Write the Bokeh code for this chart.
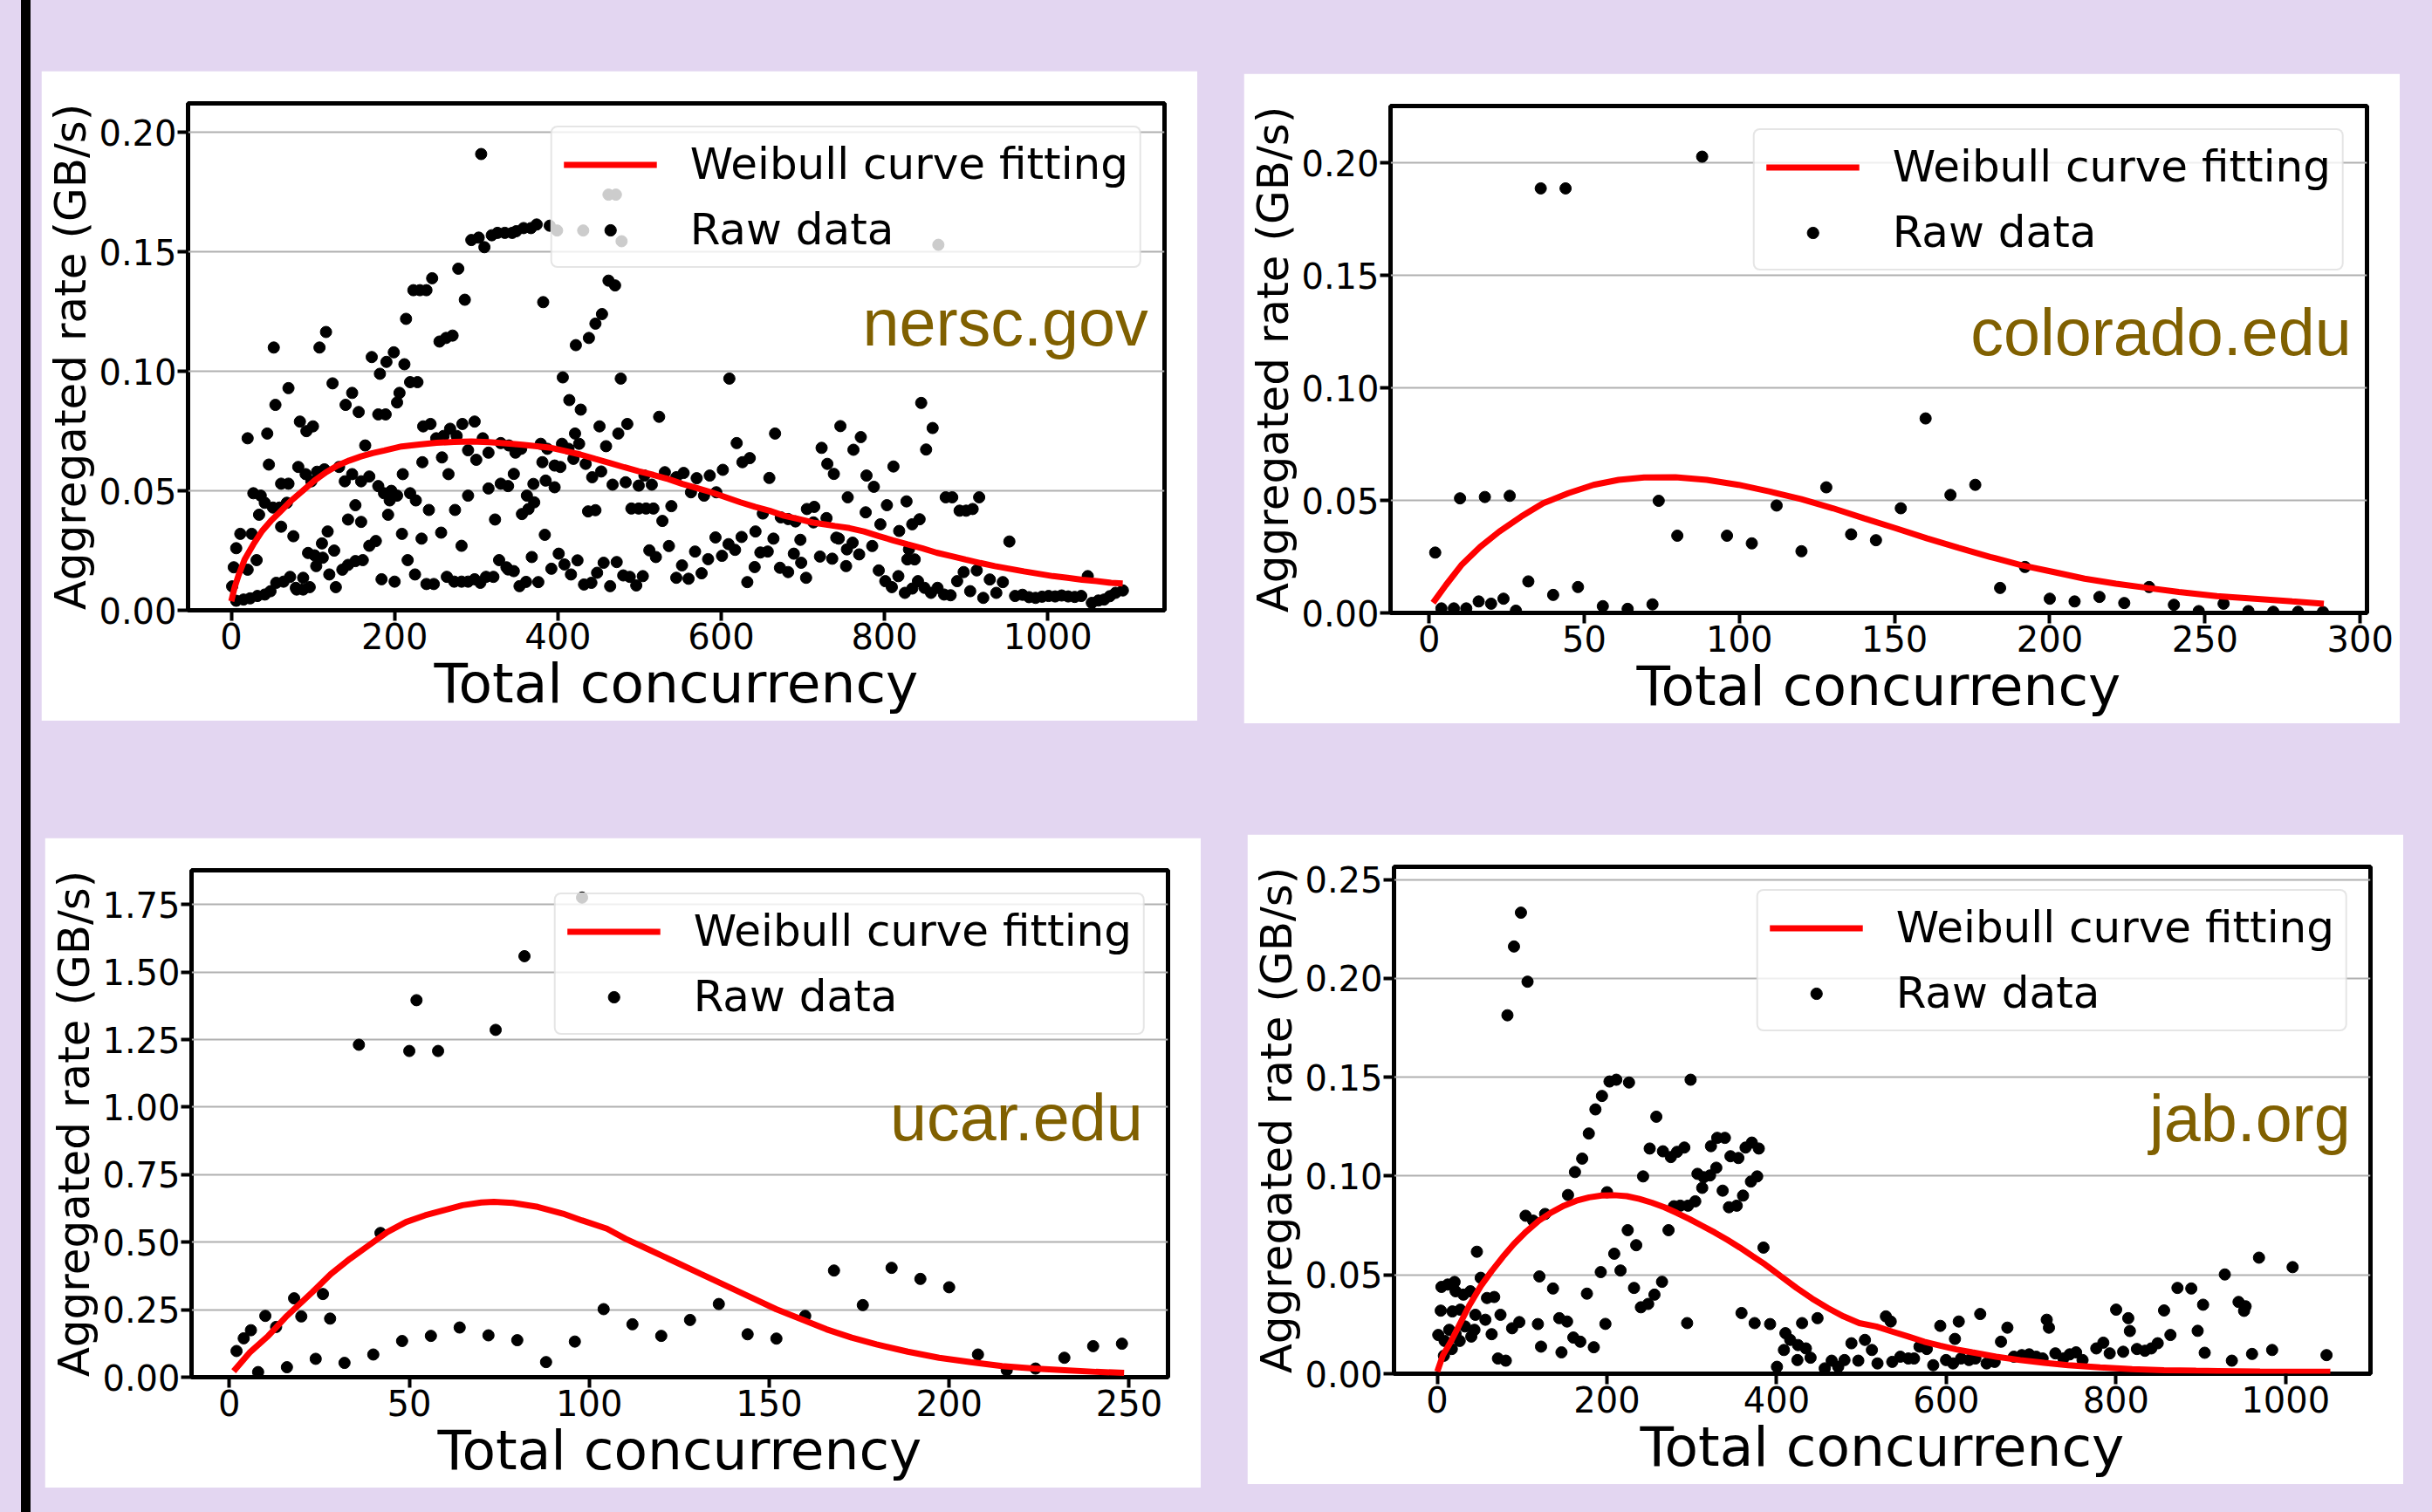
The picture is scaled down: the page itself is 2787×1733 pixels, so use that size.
from bokeh.plotting import figure
from bokeh.models import FixedTicker, PrintfTickFormatter, Range1d, Legend, LegendItem, Label
from bokeh.layouts import row, column
from bokeh.embed import file_html
from bokeh.resources import INLINE

# ---------------- data ----------------
nersc_x = [306, 294, 303, 310, 319, 326, 335, 344, 278, 286, 246, 223, 231, 239, 214, 255, 263, 271,
           116, 108, 52, 172, 190, 199, 212, 182, 124, 219, 228, 70, 148, 206, 140, 156, 203, 54, 180, 189,
           84, 92, 100, 235, 244, 283, 298, 268, 20, 44, 251, 260, 276, 164, 308, 258, 290, 300, 315, 330, 340,
           234, 266, 210, 46, 82, 91, 98, 105, 114, 132, 139, 148, 159, 169, 180, 187, 196, 203, 194,
           27, 36, 41, 61, 70, 68, 59, 51, 34, 61, 219, 226, 242, 290, 315, 330, 339, 274, 323,
           143, 152, 159, 192, 11, 25, 6, 3, 1, 20, 31, 76, 118, 111, 94, 102, 112, 104, 126, 120, 128,
           169, 177, 161, 152, 143, 136, 209, 233, 257, 282, 216, 225, 184, 200, 239, 248,
           264, 273, 282, 290, 298, 305, 312, 321, 328, 337,
           6, 15, 23, 32, 41, 48, 55, 64, 72, 79, 88, 96, 80, 88,
           349, 358, 367, 374, 390, 399, 431, 462, 471, 478, 866,
           382, 462, 470, 454, 446, 438, 422, 406, 477, 610, 414, 428, 524,
           451, 485, 474, 421, 666, 619, 723, 348, 355, 379, 387, 405, 413, 426, 419, 459,
           381, 396, 403, 434, 626, 635, 730, 738, 346, 370, 385, 396, 442, 453, 467, 483,
           499, 506, 515, 531, 545, 554, 570, 586, 602, 563, 579, 594, 362, 371, 364, 356, 437, 446,
           490, 499, 508, 517, 528, 539, 651, 659, 673, 682, 691, 705, 714, 713, 729, 741, 384,
           339, 346, 353, 361, 376, 368, 392, 401, 408, 416, 424,
           432, 441, 448, 456, 464, 472, 480, 488, 496, 504, 512, 520, 536,
           545, 552, 560, 568, 576, 584, 593, 601, 609, 617, 625,
           632, 641, 642, 648, 657, 664, 672, 682, 689, 697, 698, 704, 721, 736, 744,
           845, 859, 851, 746, 771, 762, 811, 778, 787, 755, 827, 803, 777, 795, 818, 834, 843,
           875, 883, 892, 900, 908, 916, 761, 754, 769, 785, 753, 830, 828, 837, 953,
           793, 801, 809, 817, 825, 834, 841, 849, 857, 865, 873, 881, 889, 897, 905, 913, 921, 929, 937, 945,
           960, 969, 977, 985, 993, 1001, 1009, 1017, 1025, 1033, 1041, 1049,
           1054, 1062, 1069, 1076, 1083, 1092]
nersc_y = [0.191, 0.155, 0.156, 0.152, 0.157, 0.158, 0.158, 0.158, 0.143, 0.130, 0.139, 0.134, 0.134, 0.134, 0.122, 0.1125, 0.114, 0.115,
           0.1165, 0.110, 0.110, 0.106, 0.104, 0.108, 0.103, 0.099, 0.095, 0.0955, 0.0955, 0.093, 0.091, 0.091, 0.086, 0.083, 0.087, 0.086, 0.082, 0.082,
           0.079, 0.075, 0.077, 0.077, 0.078, 0.078, 0.079, 0.076, 0.072, 0.074, 0.072, 0.073, 0.073, 0.069, 0.072, 0.064, 0.067, 0.063, 0.066, 0.070, 0.069,
           0.062, 0.057, 0.057, 0.061, 0.060, 0.057, 0.054, 0.058, 0.059, 0.060, 0.054, 0.057, 0.054, 0.056, 0.052, 0.049, 0.050, 0.048, 0.046,
           0.049, 0.048, 0.045, 0.053, 0.053, 0.045, 0.043, 0.043, 0.040, 0.035, 0.049, 0.046, 0.042, 0.048, 0.051, 0.053, 0.052, 0.042, 0.038,
           0.038, 0.044, 0.037, 0.040, 0.032, 0.032, 0.026, 0.018, 0.010, 0.017, 0.021, 0.031, 0.033, 0.028, 0.024, 0.023, 0.022, 0.0185, 0.025, 0.015, 0.0097,
           0.027, 0.029, 0.021, 0.0206, 0.019, 0.017, 0.032, 0.030, 0.0325, 0.027, 0.021, 0.015, 0.013, 0.012, 0.011, 0.011,
           0.014, 0.012, 0.012, 0.012, 0.013, 0.0115, 0.014, 0.014, 0.021, 0.018,
           0.004, 0.0045, 0.005, 0.006, 0.0066, 0.008, 0.0115, 0.012, 0.014, 0.0094, 0.0136, 0.0097, 0.0087, 0.0087,
           0.1587, 0.160, 0.160, 0.1615, 0.161, 0.159, 0.159, 0.174, 0.174, 0.1545, 0.153,
           0.129, 0.138, 0.136, 0.124, 0.120, 0.114, 0.111, 0.0975, 0.097, 0.097, 0.088, 0.084, 0.081,
           0.077, 0.078, 0.074, 0.074, 0.074, 0.070, 0.068, 0.066, 0.0676, 0.0697, 0.0676, 0.0697, 0.0676, 0.0697, 0.0634, 0.0687,
           0.062, 0.0606, 0.060, 0.0613, 0.062, 0.0637, 0.0613, 0.0571, 0.0571, 0.0529, 0.0543, 0.0515, 0.0557, 0.0581, 0.0526, 0.0536,
           0.0522, 0.0564, 0.0526, 0.0578, 0.0557, 0.0575, 0.0553, 0.0564, 0.0588, 0.0494, 0.048, 0.0494, 0.048, 0.0452, 0.0424, 0.0403, 0.0414, 0.0419,
           0.0426, 0.0426, 0.0426, 0.0426, 0.0374, 0.0436, 0.0405, 0.0554, 0.0389, 0.0382, 0.0372, 0.0424, 0.0433, 0.0368, 0.0386, 0.0304, 0.0316,
           0.0171, 0.0164, 0.0101, 0.0119, 0.0118, 0.0223, 0.0174, 0.0237, 0.0192, 0.015, 0.0209,
           0.0108, 0.0115, 0.0157, 0.0199, 0.0101, 0.0202, 0.0146, 0.014, 0.0104, 0.0143, 0.0251, 0.0223, 0.0269,
           0.0136, 0.0188, 0.0132, 0.0246, 0.0155, 0.0214, 0.0305, 0.0228, 0.0277, 0.0253, 0.0307,
           0.0118, 0.0181, 0.033, 0.0242, 0.0246, 0.030, 0.0178, 0.016, 0.0237, 0.0295, 0.0199, 0.0136, 0.0225, 0.0216, 0.030,
           0.0868, 0.0763, 0.0673, 0.0771, 0.0725, 0.0672, 0.0602, 0.0564, 0.0517, 0.0473, 0.0456, 0.044, 0.041, 0.036, 0.0332, 0.036, 0.0381,
           0.0473, 0.0473, 0.0417, 0.0417, 0.0424, 0.0473, 0.0283, 0.0255, 0.0234, 0.0269, 0.0185, 0.0255, 0.0213, 0.0213, 0.0288,
           0.0167, 0.0122, 0.0097, 0.0143, 0.0073, 0.0091, 0.0122, 0.0094, 0.0073, 0.0094, 0.0066, 0.0063, 0.0122, 0.016, 0.008, 0.0167, 0.0052, 0.0129, 0.0073, 0.0118,
           0.006, 0.0065, 0.0055, 0.0052, 0.0057, 0.006, 0.0058, 0.0062, 0.0058, 0.0056, 0.006, 0.0143,
           0.0031, 0.0041, 0.0045, 0.0059, 0.0073, 0.0083]
nersc_fit_x = [0, 3.9, 9.2, 16.3, 27.0, 37.7, 48.4, 59.1, 73.3, 87.6, 101.8, 116.1, 130.3, 144.5, 158.8, 173.0, 187.3,
               208.6, 230.0, 251.4, 272.7, 294.1, 315.5, 344.0, 356.5, 374.3, 392.1, 409.9, 427.7, 445.5, 463.3, 481.1,
               498.9, 516.8, 534.6, 552.4, 570.2, 588.0, 605.8, 623.6, 641.4, 659.2, 677.0, 694.8, 712.6, 730.4, 739.3,
               757.1, 774.9, 792.7, 810.5, 828.3, 846.1, 863.9, 881.7, 899.5, 917.4, 935.2, 953.0, 970.8, 988.6, 1006.4,
               1024.2, 1042.0, 1059.8, 1077.6, 1091.8]
nersc_fit_y = [0.0038, 0.0094, 0.0150, 0.0213, 0.0276, 0.0332, 0.0374, 0.0410, 0.0459, 0.0501, 0.0543, 0.0578, 0.0606,
               0.0627, 0.0644, 0.0658, 0.0669, 0.0686, 0.0694, 0.0701, 0.0705, 0.0707, 0.0704, 0.0697, 0.0693, 0.0687,
               0.0680, 0.0666, 0.0652, 0.0634, 0.0617, 0.0599, 0.0582, 0.0567, 0.0550, 0.0529, 0.0512, 0.0494, 0.0473,
               0.0452, 0.0433, 0.0417, 0.0396, 0.0382, 0.0367, 0.0358, 0.0353, 0.0344, 0.0330, 0.0311, 0.0293, 0.0276,
               0.0260, 0.0241, 0.0227, 0.0212, 0.0198, 0.0185, 0.0174, 0.0163, 0.0153, 0.0143, 0.0136, 0.0128, 0.0122,
               0.0115, 0.0112]

colorado_x = [88, 36, 44, 160, 2, 10, 18, 26, 74, 80, 96, 104, 120, 128, 112, 136, 144, 152, 168, 176, 192, 184, 200,
              208, 216, 224, 232, 240, 248, 256, 264, 272, 280, 288, 4, 8, 12, 16, 20, 24, 28, 32, 40, 48, 56, 64, 72]
colorado_y = [0.2027, 0.1886, 0.1886, 0.0864, 0.0268, 0.0509, 0.0515, 0.052, 0.0498, 0.0343, 0.0343, 0.0309, 0.0274,
              0.0558, 0.0477, 0.0349, 0.0323, 0.0465, 0.0524, 0.0569, 0.0204, 0.0111, 0.0063, 0.0051, 0.0071, 0.0044,
              0.0115, 0.0036, 0.0008, 0.0041, 0.0008, 0.0005, 0.0005, 0.0004, 0.002, 0.002, 0.002, 0.0051, 0.0041,
              0.0063, 0.001, 0.014, 0.008, 0.0115, 0.003, 0.0018, 0.0038]
colorado_fit_x = [1.3, 5.4, 10.4, 16.5, 22.6, 29.7, 36.8, 44.9, 53.0, 61.1, 69.3, 79.4, 89.5, 99.7, 109.8, 120.0, 130.1,
                  140.2, 150.4, 160.5, 170.6, 180.8, 190.9, 201.1, 211.2, 221.3, 231.5, 241.6, 253.8, 266.0, 278.1, 288.3]
colorado_fit_y = [0.0045, 0.0123, 0.0212, 0.0294, 0.0361, 0.0428, 0.0487, 0.0532, 0.0569, 0.0591, 0.0602, 0.0603, 0.0591,
                  0.0569, 0.0539, 0.0505, 0.0465, 0.0420, 0.0376, 0.0331, 0.0289, 0.0249, 0.0212, 0.0182, 0.0152, 0.0130,
                  0.0111, 0.0093, 0.0075, 0.0063, 0.0051, 0.0041]

ucar_x = [98, 82, 52, 36, 50, 58, 74, 42, 2, 4, 6, 10, 13, 18, 20, 26, 28, 8, 16, 24, 32, 40, 48, 56, 64, 72, 80,
          88, 96, 104, 112, 120, 128, 136, 144, 152, 160, 168, 176, 184, 192, 200, 208, 216, 224, 232, 240, 248]
ucar_y = [1.776, 1.559, 1.396, 1.231, 1.208, 1.208, 1.286, 0.534, 0.097, 0.144, 0.174, 0.227, 0.186, 0.292, 0.225,
          0.308, 0.217, 0.019, 0.037, 0.068, 0.053, 0.084, 0.134, 0.153, 0.184, 0.155, 0.137, 0.056, 0.132, 0.252,
          0.196, 0.153, 0.212, 0.271, 0.159, 0.143, 0.227, 0.395, 0.267, 0.405, 0.364, 0.333, 0.084, 0.026, 0.032,
          0.072, 0.115, 0.124]
ucar_fit_x = [1.2, 5.6, 10.8, 16.0, 23.0, 28.2, 33.5, 38.7, 43.9, 49.1, 54.4, 59.6, 64.8, 70.0, 73.5, 78.8, 85.7, 92.7,
              97.9, 104.9, 110.1, 117.1, 124.1, 131.0, 138.0, 145.0, 151.9, 158.9, 165.9, 172.9, 179.8, 188.5, 197.2,
              206.0, 214.7, 223.4, 232.1, 240.8, 248.6]
ucar_fit_y = [0.0223, 0.0906, 0.1527, 0.2271, 0.3140, 0.3823, 0.4382, 0.4878, 0.5375, 0.5747, 0.5995, 0.6182, 0.6368,
              0.6467, 0.6492, 0.6455, 0.6306, 0.6057, 0.5809, 0.5499, 0.5126, 0.4692, 0.4257, 0.3823, 0.3389, 0.2954,
              0.2520, 0.2147, 0.1775, 0.1464, 0.1216, 0.0944, 0.0720, 0.0558, 0.0409, 0.0323, 0.0261, 0.0198, 0.0161]

jab_x = [98.6, 90.4, 106.4, 82.7, 203, 211, 226, 298.6, 194.1, 186.4, 258.2, 178.6,
         330, 339, 322.6, 370.8, 379, 363.4, 345.6, 354.9, 250.4, 266, 275.3, 282.6, 291.2, 170.8, 162.3, 242.6,
         306.7, 314.1, 321.5, 328.9, 312.3, 369.7, 377.1, 336.4, 154.1, 200.1, 304.1, 295.6, 286.4, 278.9, 360.4, 343.8, 353,
         104.1, 113, 127.1, 224.5, 272.6, 234.5, 208.6, 384.5, 46.7, 192.7, 216, 120.4, 51.2, 264.9, 136.4, 176.4, 231.9,
         256, 248.6, 240, 4.9, 12.3, 20.4, 21.6, 30.8, 39, 58.6, 67.1, 4.1, 17.8, 27.1, 44.9, 56.7, 74.5, 88.2, 96.7,
         1.2, 8.6, 14.1, 21.6, 26.4, 32.7, 40.1, 43.8, 64.1, 7.8, 17.1, 71.5, 80.8, 118.6, 143.8, 153, 160.4, 168.6,
         122.3, 146.4, 184.5, 198.2, 294.5, 358.6, 374.1, 392.3, 400.4, 410.4, 416, 425.2, 434.5, 408.6, 424.5, 440, 430, 448.2,
         456.7, 464.9, 472.6, 480, 488.2, 496.3, 504.1, 512.3, 518.9,
         528.8, 534.5, 536.3, 545.8, 555.2, 562, 568.4, 577, 584.6, 592.9, 599.7, 608, 610.2, 614.7, 617.4, 626.8, 634.3,
         640, 647.5, 657, 664.5, 672, 679.6, 689, 697.7, 706, 713.5, 718.4, 721, 728.6, 738, 745.5, 753, 760.6, 776.8,
         785.1, 792.6, 800.2, 808.5, 814.5, 816.4, 824.7, 834.1, 841.6, 849.2, 856.7, 864.2, 872.5, 888.8, 896.3, 902.7,
         904.6, 928.3, 936.6, 944.5, 952.8, 951, 960.4, 968.6, 984.1, 1008.2, 1048.2]
jab_y = [0.2332, 0.2161, 0.1983, 0.1813, 0.1478, 0.1487, 0.1473, 0.1487, 0.1405, 0.1337, 0.13, 0.1215,
         0.1193, 0.1193, 0.1151, 0.1169, 0.1139, 0.1144, 0.11, 0.1091, 0.1139, 0.1125, 0.1096, 0.1122, 0.1144, 0.1088, 0.102, 0.0998,
         0.1011, 0.0994, 0.1003, 0.1042, 0.094, 0.0972, 0.0998, 0.0926, 0.0904, 0.0918, 0.0872, 0.085, 0.085, 0.0847, 0.0901, 0.0842, 0.085,
         0.0799, 0.0774, 0.0808, 0.0726, 0.0726, 0.065, 0.0607, 0.0638, 0.0617, 0.0514, 0.0522, 0.0492, 0.0485, 0.0465, 0.0431, 0.0405, 0.0434,
         0.04, 0.0353, 0.0336, 0.0439, 0.0451, 0.0464, 0.0417, 0.04, 0.0417, 0.0383, 0.0388, 0.0319, 0.0315, 0.0324, 0.0298, 0.0273, 0.0298, 0.023, 0.0261,
         0.0196, 0.0166, 0.0222, 0.02, 0.0166, 0.0239, 0.0188, 0.0222, 0.02, 0.0091, 0.0125, 0.0077, 0.0066, 0.0251, 0.0281, 0.0264, 0.0183, 0.0162,
         0.0137, 0.0108, 0.0134, 0.0252, 0.0256, 0.0307, 0.0256, 0.0251, 0.0035, 0.0205, 0.0171, 0.0145, 0.0128, 0.012, 0.0069, 0.0081, 0.0256, 0.0281,
         0.0027, 0.0066, 0.0035, 0.0069, 0.0154, 0.0066, 0.0171, 0.012, 0.0052,
         0.029, 0.0264, 0.006, 0.0086, 0.0077, 0.0077, 0.0137, 0.0125, 0.0043, 0.0242, 0.0069, 0.0052, 0.0176, 0.0264, 0.0077, 0.0069, 0.0077,
         0.0302, 0.0052, 0.006, 0.0162, 0.0233, 0.0086, 0.0094, 0.0098, 0.0086, 0.0077, 0.0273, 0.0233, 0.0103, 0.0077, 0.0098, 0.0108, 0.0069, 0.0128,
         0.0157, 0.0103, 0.0324, 0.0111, 0.0281, 0.0216, 0.0125, 0.0116, 0.0128, 0.0154, 0.032, 0.0196, 0.0434, 0.0431, 0.0217, 0.0349,
         0.0106, 0.0502, 0.0066, 0.0363, 0.0341, 0.0318, 0.01, 0.0587, 0.012, 0.0539, 0.0094]
jab_fit_x = [0, 6.7, 16.0, 27.1, 38.2, 51.2, 64.1, 77.1, 90.1, 104.9, 119.7, 134.5, 149.3, 164.1, 179.0, 193.8, 208.6,
             223.4, 238.2, 253.0, 267.8, 282.6, 297.5, 312.3, 327.1, 341.9, 356.7, 371.5, 386.3, 404.9, 423.4, 441.9,
             460.4, 478.9, 497.4, 517.5, 536.3, 555.2, 574.0, 592.9, 611.7, 630.6, 658.8, 687.1, 715.4, 743.6, 781.3,
             819.0, 856.7, 894.4, 969.8, 1052.7]
jab_fit_y = [0.0010, 0.0094, 0.0162, 0.0256, 0.0349, 0.0443, 0.0519, 0.0590, 0.0655, 0.0719, 0.0774, 0.0816, 0.0850,
             0.0875, 0.0892, 0.0901, 0.0903, 0.0898, 0.0884, 0.0865, 0.0842, 0.0813, 0.0782, 0.0748, 0.0714, 0.0677,
             0.0638, 0.0595, 0.0553, 0.0493, 0.0434, 0.0380, 0.0332, 0.0290, 0.0256, 0.0239, 0.0213, 0.0188, 0.0162,
             0.0142, 0.0123, 0.0108, 0.0086, 0.0069, 0.0055, 0.0043, 0.0032, 0.0023, 0.0018, 0.0015, 0.0011, 0.0010]

x_ticks_nersc = [0, 200, 400, 600, 800, 1000]
x_ticks_colorado = [0, 50, 100, 150, 200, 250, 300]
x_ticks_ucar = [0, 50, 100, 150, 200, 250]
x_ticks_jab = [0, 200, 400, 600, 800, 1000]
y_ticks_nersc = [0.0, 0.05, 0.10, 0.15, 0.20]
y_ticks_colorado = [0.0, 0.05, 0.10, 0.15, 0.20]
y_ticks_ucar = [0.0, 0.25, 0.5, 0.75, 1.0, 1.25, 1.5, 1.75]
y_ticks_jab = [0.0, 0.05, 0.10, 0.15, 0.20, 0.25]

BG = "#E3D6F1"
SITE_COLOR = "#806000"


def make_panel(sx, sy, fx, fy, xr, yr, xt, yt, site, lx, ly, margin):
    p = figure(width=1325, height=745, x_range=Range1d(*xr), y_range=Range1d(*yr),
               output_backend="svg", toolbar_location=None,
               min_border_left=168, min_border_right=38, min_border_top=37, min_border_bottom=127,
               background_fill_color="white", border_fill_color="white",
               outline_line_color="black", outline_line_width=5)
    p.margin = margin
    sc = p.scatter(sx, sy, size=13, fill_color="black", line_color="black")
    ln = p.line(fx, fy, line_color="#ff0000", line_width=7)

    xtick = FixedTicker(ticks=xt)
    ytick = FixedTicker(ticks=yt)
    p.xaxis.ticker = xtick
    p.yaxis.ticker = ytick
    p.ygrid.ticker = ytick
    p.yaxis.formatter = PrintfTickFormatter(format="%.2f")
    p.xgrid.visible = False
    p.ygrid.grid_line_color = "#b0b0b0"
    p.ygrid.grid_line_width = 2

    for ax in (p.xaxis[0], p.yaxis[0]):
        ax.axis_line_color = None
        ax.minor_tick_line_color = None
        ax.major_tick_in = 0
        ax.major_tick_out = 12
        ax.major_tick_line_width = 4
        ax.major_tick_line_color = "black"
        ax.major_label_text_font = "DejaVu Sans"
        ax.major_label_text_font_size = "40px"
        ax.major_label_text_color = "black"
        ax.axis_label_text_font = "DejaVu Sans"
        ax.axis_label_text_font_style = "normal"
        ax.axis_label_text_color = "black"

    p.xaxis.axis_label = "Total concurrency"
    p.xaxis.axis_label_text_font_size = "63px"
    p.xaxis.major_label_standoff = 2
    p.xaxis.axis_label_standoff = 0
    p.yaxis.axis_label = "Aggregated rate (GB/s)"
    p.yaxis.axis_label_text_font_size = "50px"
    p.yaxis.major_label_standoff = 1
    p.yaxis.axis_label_standoff = 0

    legend = Legend(items=[LegendItem(label="Weibull curve fitting", renderers=[ln]),
                           LegendItem(label="Raw data", renderers=[sc])],
                    location="top_right")
    legend.label_text_font = "DejaVu Sans"
    legend.label_text_font_size = "50px"
    legend.label_text_color = "black"
    legend.glyph_width = 107
    legend.glyph_height = 33
    legend.label_height = 55
    legend.label_width = 500
    legend.label_standoff = 38
    legend.spacing = 17
    legend.padding = 13
    legend.margin = 26
    legend.border_line_color = "#cccccc"
    legend.border_line_width = 2
    legend.background_fill_color = "white"
    legend.background_fill_alpha = 0.8
    if "border_radius" in legend.properties():
        legend.border_radius = 8
    p.add_layout(legend)

    p.add_layout(Label(x=lx, y=ly, text=site, text_align="right", text_baseline="alphabetic",
                       text_font="Liberation Sans", text_font_size="75.5px", text_color=SITE_COLOR))
    return p


p1 = make_panel(nersc_x, nersc_y, nersc_fit_x, nersc_fit_y, (-53, 1143), (0, 0.2122),
                x_ticks_nersc, y_ticks_nersc, "nersc.gov", 1123, 0.1202, (81, 0, 0, 47))
p2 = make_panel(colorado_x, colorado_y, colorado_fit_x, colorado_fit_y, (-12.4, 302.2), (0, 0.2252),
                x_ticks_colorado, y_ticks_colorado, "colorado.edu", 297.2, 0.1245, (84, 0, 0, 53))
p3 = make_panel(ucar_x, ucar_y, ucar_fit_x, ucar_fit_y, (-10.5, 260.8), (0, 1.877),
                x_ticks_ucar, y_ticks_ucar, "ucar.edu", 253.8, 0.962, (131, 0, 0, 51))
p4 = make_panel(jab_x, jab_y, jab_fit_x, jab_fit_y, (-51, 1100), (0, 0.2564),
                x_ticks_jab, y_ticks_jab, "jab.org", 1076.6, 0.1291, (127, 0, 0, 53))

root = column(row(p1, p2), row(p3, p4), width=2787, height=1733,
              styles={"background": "linear-gradient(to right, %s 0px, %s 24px, #000000 24px, #000000 35px, %s 35px, %s 100%%)" % (BG, BG, BG, BG)})

open("out.html", "w").write(file_html(root, INLINE))
